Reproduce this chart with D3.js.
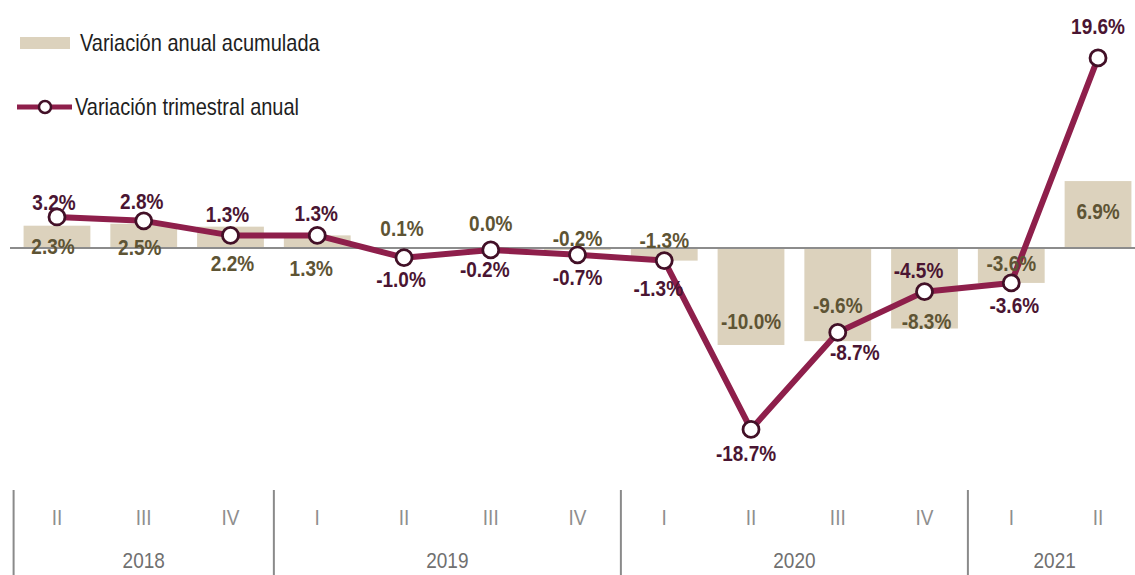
<!DOCTYPE html>
<html>
<head>
<meta charset="utf-8">
<script src="https://cdn.jsdelivr.net/npm/d3@7"></script>
<style>
  html, body { margin: 0; padding: 0; background: #ffffff; }
  svg { display: block; font-family: "Liberation Sans", Arial, sans-serif; }
</style>
</head>
<body>
<svg id="chart" width="1135" height="575"></svg>
<script>
// ---------- data ----------
const quarters = ["II","III","IV","I","II","III","IV","I","II","III","IV","I","II"];
const years = ["2018","2018","2018","2019","2019","2019","2019","2020","2020","2020","2020","2021","2021"];
const acumulada = [2.3, 2.5, 2.2, 1.3, 0.1, 0.0, -0.2, -1.3, -10.0, -9.6, -8.3, -3.6, 6.9];
const trimestral = [3.2, 2.8, 1.3, 1.3, -1.0, -0.2, -0.7, -1.3, -18.7, -8.7, -4.5, -3.6, 19.6];
const seriesNames = ["Variación anual acumulada", "Variación trimestral anual"];

// ---------- label layout (px offsets relative to each mark) ----------
const lineLabelDx = [-3, -2, -3, -1, -3, -6, 0, -6, -5, 17, -6, 3, 0];
const lineLabelDy = [-15, -20, -22, -23, 21, 19, 22, 27, 23, 19, -22, 22, -32];
const barLabelDx = [-4, -4, 2, -6, -2, 0, 0, 0, 0, 0, 2, 0, 0];
const barLabelDy = [20, 23, 36, 32, -19, -25, -12, -21, -24, -36, -8, -20, 30];

// ---------- styles ----------
const barColor = "#dcd2bd";
const lineColor = "#8e1f4b";
const markerStroke = "#421027";
const lineLabelColor = "#4a1532";
const barLabelColor = "#5e5434";
const zeroColor = "#8c8c8c";
const TEXT_STRETCH = 1.2;

const svg = d3.select("#chart");
const idx = d3.range(quarters.length);

const x = d3.scaleBand()
  .domain(idx)
  .range([13.6, 1141.4])
  .paddingInner(0.23)
  .paddingOuter(0.115);

const y = d3.scaleLinear().domain([-20, 20]).range([442, 54]);

const cx = i => x(i) + x.bandwidth() / 2;

function stretchedText(sel, tx, ty) {
  return sel.attr("transform", (d, i) => `translate(${tx(d, i)},${ty(d, i)}) scale(1,${TEXT_STRETCH})`)
    .attr("dominant-baseline", "central");
}

// ---------- bars ----------
svg.append("g").selectAll("rect")
  .data(idx)
  .join("rect")
  .attr("x", i => x(i))
  .attr("width", x.bandwidth())
  .attr("y", i => Math.min(y(acumulada[i]), y(0)))
  .attr("height", i => Math.abs(y(acumulada[i]) - y(0)))
  .attr("fill", barColor);

// ---------- zero line ----------
svg.append("line")
  .attr("x1", 10).attr("x2", 1135)
  .attr("y1", y(0)).attr("y2", y(0))
  .attr("stroke", zeroColor)
  .attr("stroke-width", 2);

// ---------- line ----------
const lineGen = d3.line().x(i => cx(i)).y(i => y(trimestral[i]));
svg.append("path")
  .datum(idx)
  .attr("d", lineGen)
  .attr("fill", "none")
  .attr("stroke", lineColor)
  .attr("stroke-width", 6)
  .attr("stroke-linejoin", "round");

svg.append("g").selectAll("circle")
  .data(idx)
  .join("circle")
  .attr("cx", i => cx(i))
  .attr("cy", i => y(trimestral[i]))
  .attr("r", 8)
  .attr("fill", "#ffffff")
  .attr("stroke", markerStroke)
  .attr("stroke-width", 2.8);

// ---------- labels ----------
const fmt = v => v.toFixed(1) + "%";

svg.append("g").selectAll("text")
  .data(idx)
  .join("text")
  .call(stretchedText, i => cx(i) + barLabelDx[i], i => y(acumulada[i]) + barLabelDy[i])
  .attr("text-anchor", "middle")
  .attr("font-size", 19)
  .attr("font-weight", "bold")
  .attr("fill", barLabelColor)
  .text(i => fmt(acumulada[i]));

svg.append("g").selectAll("text")
  .data(idx)
  .join("text")
  .call(stretchedText, i => cx(i) + lineLabelDx[i], i => y(trimestral[i]) + lineLabelDy[i])
  .attr("text-anchor", "middle")
  .attr("font-size", 19)
  .attr("font-weight", "bold")
  .attr("fill", lineLabelColor)
  .text(i => fmt(trimestral[i]));

// ---------- category axis ----------
const axisG = svg.append("g");
axisG.selectAll("text.q")
  .data(idx)
  .join("text")
  .attr("class", "q")
  .call(stretchedText, i => cx(i), () => 517)
  .attr("text-anchor", "middle")
  .attr("font-size", 19)
  .attr("fill", "#8e8e8e")
  .text(i => quarters[i]);

const yearGroups = d3.groups(idx, i => years[i]);
axisG.selectAll("text.y")
  .data(yearGroups)
  .join("text")
  .attr("class", "y")
  .call(stretchedText, g => (cx(g[1][0]) + cx(g[1][g[1].length - 1])) / 2, () => 560)
  .attr("text-anchor", "middle")
  .attr("font-size", 19)
  .attr("fill", "#707070")
  .text(g => g[0]);

axisG.selectAll("line.sep")
  .data(yearGroups)
  .join("line")
  .attr("class", "sep")
  .attr("x1", g => x(g[1][0]) - x.step() * x.paddingInner() / 2)
  .attr("x2", g => x(g[1][0]) - x.step() * x.paddingInner() / 2)
  .attr("y1", 490).attr("y2", 575)
  .attr("stroke", "#8a8a8a")
  .attr("stroke-width", 2);

// ---------- legend ----------
const leg = svg.append("g");
leg.append("rect").attr("x", 20).attr("y", 37).attr("width", 50).attr("height", 12).attr("fill", barColor);
leg.append("text")
  .attr("transform", `translate(80,43) scale(1,${TEXT_STRETCH})`)
  .attr("dominant-baseline", "central")
  .attr("font-size", 20).attr("fill", "#1e1e1e")
  .text(seriesNames[0]);
leg.append("line").attr("x1", 17).attr("x2", 72).attr("y1", 107).attr("y2", 107)
  .attr("stroke", lineColor).attr("stroke-width", 5);
leg.append("circle").attr("cx", 45).attr("cy", 107).attr("r", 6)
  .attr("fill", "#fff").attr("stroke", markerStroke).attr("stroke-width", 2.5);
leg.append("text")
  .attr("transform", `translate(75,107) scale(1,${TEXT_STRETCH})`)
  .attr("dominant-baseline", "central")
  .attr("font-size", 20).attr("fill", "#1e1e1e")
  .text(seriesNames[1]);
</script>
</body>
</html>
